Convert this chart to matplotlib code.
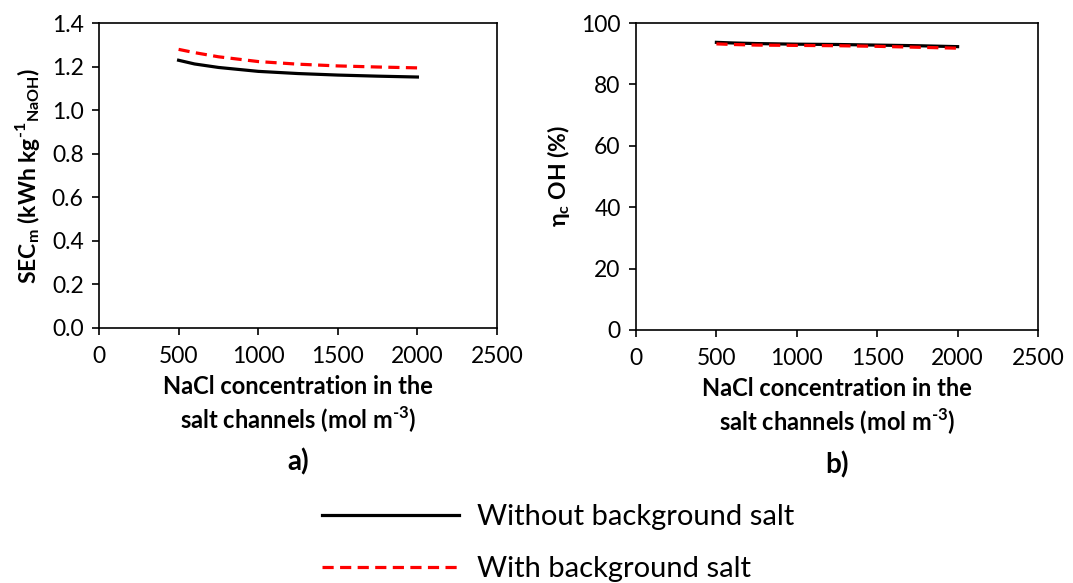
import matplotlib
matplotlib.use("Agg")
import matplotlib.pyplot as plt
import numpy as np

plt.rcParams['font.family'] = ['Lato', 'DejaVu Sans']
plt.rcParams['mathtext.fontset'] = 'custom'
plt.rcParams['mathtext.rm'] = 'Lato'
plt.rcParams['mathtext.bf'] = 'Lato:bold'

# NaCl concentration in the salt channels (mol m-3)
conc = [500, 600, 750, 1000, 1250, 1500, 1750, 2000]

# specific energy consumption (kWh kg-1 NaOH)
sec_without = [1.229, 1.212, 1.196, 1.178, 1.168, 1.161, 1.156, 1.152]
sec_with = [1.279, 1.264, 1.245, 1.223, 1.211, 1.203, 1.198, 1.194]

# current efficiency for OH- (%)
eta_without = [93.7, 93.5, 93.3, 93.1, 93.0, 92.8, 92.6, 92.3]
eta_with = [93.2, 93.0, 92.8, 92.7, 92.6, 92.4, 92.1, 91.8]

xticks = [0, 500, 1000, 1500, 2000, 2500]
xlabel = 'NaCl concentration in the\nsalt channels (mol m$^{\\mathbf{\u2010}\\mathbf{3}}$)'
dash = (0, (3.5, 2))

fig = plt.figure(figsize=(10.73, 5.83), dpi=100)
ax1 = fig.add_axes([99 / 1073, 1 - 328 / 583, 398 / 1073, 305 / 583])
ax2 = fig.add_axes([636 / 1073, 1 - 330 / 583, 402 / 1073, 307 / 583])

ax1.plot(conc, sec_without, color='black', lw=2.3, label='Without background salt')
ax1.plot(conc, sec_with, color='red', lw=2.3, ls=dash, label='With background salt')
ax1.set_ylim(0, 1.4)
ax1.set_yticks(np.arange(0, 1.41, 0.2))
ax1.set_yticklabels([f'{v:.1f}' for v in np.arange(0, 1.41, 0.2)])
ax1.set_ylabel('SEC$_{\\mathbf{m}}$ (kWh kg$^{\\mathbf{\u20101}}$$_{\\mathbf{NaOH}}$)',
               fontsize=16.5, fontweight='bold', labelpad=7)

ax2.plot(conc, eta_without, color='black', lw=2.3)
ax2.plot(conc, eta_with, color='red', lw=2.3, ls=dash)
ax2.set_ylim(0, 100)
ax2.set_yticks(range(0, 101, 20))
ax2.set_ylabel('η$_{\\mathbf{c}}$ OH (%)', fontsize=16.5, fontweight='bold', labelpad=7)

for ax, tag in [(ax1, 'a)'), (ax2, 'b)')]:
    ax.set_xlim(0, 2500)
    ax.set_xticks(xticks)
    ax.set_xlabel(xlabel, fontsize=17, fontweight='bold', linespacing=1.25, labelpad=6)
    ax.tick_params(direction='out', length=5, width=1.2, labelsize=16.5)
    ax.tick_params(axis='x', pad=8)
    ax.tick_params(axis='y', pad=6)
    for s in ax.spines.values():
        s.set_linewidth(1.2)
    ax.text(0.5, -0.44, tag, transform=ax.transAxes, ha='center', va='center',
            fontsize=20, fontweight='bold')

fig.legend(loc='upper left', bbox_to_anchor=(296 / 1073, 1 - 478 / 583), frameon=False,
           fontsize=21, handlelength=4.7, handletextpad=0.6, labelspacing=0.9)

fig.savefig('out.png', dpi=100)
